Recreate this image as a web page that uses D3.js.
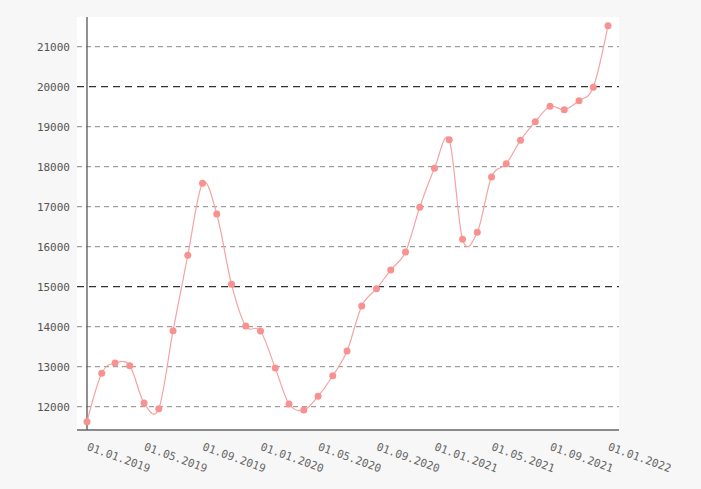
<!DOCTYPE html>
<html>
<head>
<meta charset="utf-8">
<script src="https://cdn.jsdelivr.net/npm/d3@7"></script>
<style>
  body { margin: 0; background: #f7f7f7; }
  svg { display: block; }
  text { font-family: "DejaVu Sans Mono", monospace; font-size: 11px; fill: #555; }
</style>
</head>
<body>
<svg></svg>
<script>
// monthly values, 01.2019 .. 01.2022
var startMonth = new Date(2019, 0, 1);
var values = [11625, 12834, 13092, 13025, 12092, 11950, 13900, 15785, 17585, 16817,
              15060, 14017, 13892, 12967, 12067, 11917, 12260, 12775, 13392, 14517,
              14950, 15417, 15867, 16985, 17960, 18675, 16185, 16360, 17742, 18075,
              18660, 19125, 19510, 19425, 19650, 19985, 21525];
var yTicks = [12000, 13000, 14000, 15000, 16000, 17000, 18000, 19000, 20000, 21000];
var majorTicks = [15000, 20000];
var xTicks = ["2019-01-01", "2019-05-01", "2019-09-01", "2020-01-01", "2020-05-01",
              "2020-09-01", "2021-01-01", "2021-05-01", "2021-09-01", "2022-01-01"];

var points = values.map(function(v, i) {
  return { date: d3.timeMonth.offset(startMonth, i), value: v };
});

var svg = d3.select("svg").attr("width", 701).attr("height", 489);

var plot = { left: 77, right: 619, top: 17, bottom: 430 };

svg.append("rect")
    .attr("x", plot.left).attr("y", plot.top)
    .attr("width", plot.right - plot.left).attr("height", plot.bottom - plot.top)
    .attr("fill", "#fff");

var parse = d3.timeParse("%Y-%m-%d");
var x = d3.scaleTime()
    .domain([parse(xTicks[0]), parse(xTicks[xTicks.length - 1])])
    .range([87, 608]);
var y = d3.scaleLinear()
    .domain([20000, 21000])
    .range([86.7, 46.7]);

// horizontal guides
svg.append("g").selectAll("line")
    .data(yTicks)
  .enter().append("line")
    .attr("x1", plot.left).attr("x2", plot.right)
    .attr("y1", function(d) { return y(d); })
    .attr("y2", function(d) { return y(d); })
    .attr("stroke", function(d) { return majorTicks.indexOf(d) >= 0 ? "#333" : "#888"; })
    .attr("stroke-width", function(d) { return majorTicks.indexOf(d) >= 0 ? 1.3 : 1; })
    .attr("stroke-dasharray", function(d) { return majorTicks.indexOf(d) >= 0 ? "7,5" : "5,4"; });

// y labels
svg.append("g").selectAll("text")
    .data(yTicks)
  .enter().append("text")
    .attr("x", 70)
    .attr("y", function(d) { return y(d); })
    .attr("dy", "0.35em")
    .style("text-anchor", "end")
    .text(function(d) { return d; });

// axes lines
svg.append("line")
    .attr("x1", 87).attr("x2", 87)
    .attr("y1", plot.top).attr("y2", plot.bottom)
    .attr("stroke", "#555").attr("stroke-width", 1.3);
svg.append("line")
    .attr("x1", plot.left).attr("x2", plot.right)
    .attr("y1", plot.bottom).attr("y2", plot.bottom)
    .attr("stroke", "#666").attr("stroke-width", 1.3);

// x labels
var fmt = d3.timeFormat("%d.%m.%Y");
svg.append("g").selectAll("text")
    .data(xTicks.map(parse))
  .enter().append("text")
    .attr("transform", function(d) { return "translate(" + (x(d) + 2) + ",442) rotate(20)"; })
    .attr("dy", "0.75em")
    .style("text-anchor", "start")
    .style("fill", "#666")
    .text(fmt);

// line
var line = d3.line()
    .x(function(d) { return x(d.date); })
    .y(function(d) { return y(d.value); })
    .curve(d3.curveCatmullRom.alpha(0));

svg.append("path")
    .datum(points)
    .attr("d", line)
    .attr("fill", "none")
    .attr("stroke", "#f5a3a3")
    .attr("stroke-width", 1.2);

// dots
svg.append("g").selectAll(".dot")
    .data(points)
  .enter().append("circle")
    .attr("class", "dot")
    .attr("cx", function(d) { return x(d.date); })
    .attr("cy", function(d) { return y(d.value); })
    .attr("r", 3.5)
    .attr("fill", "#f8918f");
</script>
</body>
</html>
